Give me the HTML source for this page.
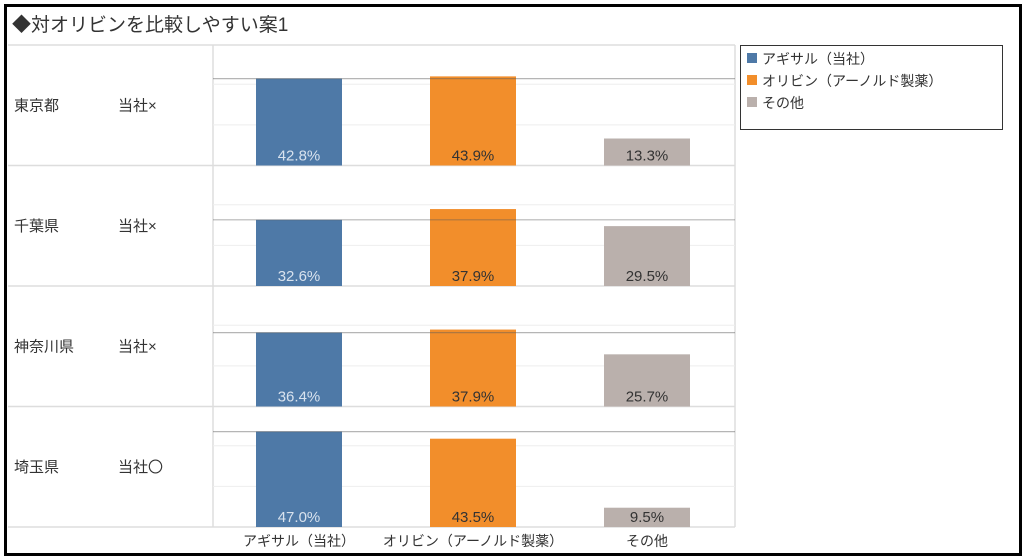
<!DOCTYPE html>
<html><head><meta charset="utf-8"><style>
body{margin:0;background:#fff;font-family:"Liberation Sans","Noto Sans CJK JP",sans-serif;}
#frame{position:absolute;left:4px;top:4px;width:1012px;height:546px;border:3px solid #000;}
#title{position:absolute;left:12px;top:10px;font-size:19px;color:#333;}
</style></head><body>
<div id="frame"></div>
<div id="title">◆対オリビンを比較しやすい案1</div>
<svg id="chart" width="1024" height="559" style="position:absolute;left:0;top:0"></svg>
<script>
const regions=["東京都","千葉県","神奈川県","埼玉県"];
const ownFlags=["当社×","当社×","当社×","当社〇"];
const categories=["アギサル（当社）","オリビン（アーノルド製薬）","その他"];
const agisal=[42.8,32.6,36.4,47.0];
const olivin=[43.9,37.9,37.9,43.5];
const others=[13.3,29.5,25.7,9.5];
const gridTicks=[20,40];
const colors=["#4e79a7","#f28e2b","#bab0ac"];
const textColors=["#d8e2ee","#333","#333"];
const svg=document.getElementById('chart');
const NS="http://www.w3.org/2000/svg";
function mk(t,a){const e=document.createElementNS(NS,t);for(const k in a)e.setAttribute(k,a[k]);svg.appendChild(e);return e;}
const rowTop=45,rowH=120.5,plotL=213,plotR=735,pxPer=2.03;
const barX=[256,430,604],barW=86;
function y(row,v){return rowTop+(row+1)*rowH-v*pxPer;}
// row separators
for(let r=0;r<=4;r++){const l=mk('line',{x1:8,x2:735,y1:rowTop+r*rowH,y2:rowTop+r*rowH,stroke:'#ddd','stroke-width':1.5});
}
const vl=mk('line',{x1:plotL,x2:plotL,y1:rowTop,y2:rowTop+4*rowH,stroke:'#ddd','stroke-width':1.5});

const vr=mk('line',{x1:plotR,x2:plotR,y1:rowTop,y2:rowTop+4*rowH,stroke:'#ddd','stroke-width':1.5});

const series=[agisal,olivin,others];
for(let r=0;r<4;r++){
 gridTicks.forEach(t=>{const g=mk('line',{x1:plotL,x2:plotR,y1:y(r,t),y2:y(r,t),stroke:'#eee','stroke-width':1});
 });
 const cy=rowTop+r*rowH+rowH/2+5;
 const rl=mk('text',{x:14,y:cy,'font-size':15,fill:'#333'});rl.textContent=regions[r];
 
 const ol=mk('text',{x:118,y:cy,'font-size':15,fill:'#333'});ol.textContent=ownFlags[r];
 
 for(let s=0;s<3;s++){const v=series[s][r];
  const b=mk('rect',{x:barX[s],y:y(r,v),width:barW,height:v*pxPer,fill:colors[s]});
  
  const t=mk('text',{x:barX[s]+barW/2,y:y(r,0)-5,'font-size':15,fill:textColors[s],'text-anchor':'middle'});
  t.textContent=v.toFixed(1)+'%';
  }
 const ref=mk('line',{x1:plotL,x2:plotR,y1:y(r,agisal[r]),y2:y(r,agisal[r]),stroke:'rgba(90,90,90,0.45)','stroke-width':1.2});
 
}
categories.forEach((c,i)=>{const t=mk('text',{x:barX[i]+barW/2,y:546,'font-size':14,fill:'#333','text-anchor':'middle'});t.textContent=c;
 });
// legend
const lb=mk('rect',{x:740.5,y:45.5,width:262,height:84,fill:'#fff',stroke:'#333','stroke-width':1});

categories.forEach((c,i)=>{const yy=58+i*22;
 const s=mk('rect',{x:747,y:yy-5,width:10,height:10,fill:colors[i]});
 
 const t=mk('text',{x:762,y:yy+6,'font-size':14,fill:'#333'});t.textContent=c==='その他'?c:c;
 });
</script>
</body></html>
